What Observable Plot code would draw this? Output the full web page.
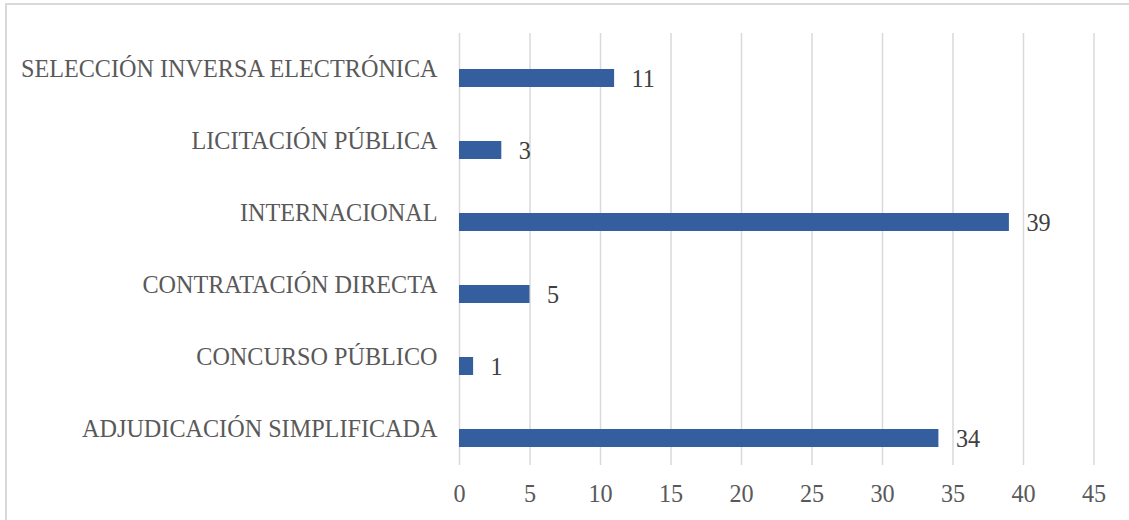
<!DOCTYPE html>
<html>
<head>
<meta charset="utf-8">
<script src="https://cdn.jsdelivr.net/npm/d3@7"></script>
<script src="https://cdn.jsdelivr.net/npm/@observablehq/plot@0.6"></script>
<style>
  html, body { margin: 0; padding: 0; background: #fff; }
  #wrap { position: relative; width: 1129px; height: 520px; overflow: hidden; }
  #border { position: absolute; left: 5px; top: 3px; width: 1140px; height: 530px;
            border: 2px solid #d9d9d9; box-sizing: border-box; pointer-events: none; }
  #chart { position: absolute; left: 0; top: 0; }
</style>
</head>
<body>
<div id="wrap"><div id="chart"></div><div id="border"></div></div>
<script>
const categories = [
  "SELECCIÓN INVERSA ELECTRÓNICA",
  "LICITACIÓN PÚBLICA",
  "INTERNACIONAL",
  "CONTRATACIÓN DIRECTA",
  "CONCURSO PÚBLICO",
  "ADJUDICACIÓN SIMPLIFICADA"
];
const values = [11, 3, 39, 5, 1, 34];
const xTicks = [0, 5, 10, 15, 20, 25, 30, 35, 40, 45];

const data = categories.map((c, i) => ({category: c, value: values[i]}));

const chart = Plot.plot({
  width: 1129,
  height: 520,
  marginLeft: 459,
  marginRight: 35.5,
  marginTop: 33,
  marginBottom: 55,
  style: {fontFamily: "'Liberation Serif', 'Times New Roman', serif", fontSize: "24px", color: "#595959", background: "transparent"},
  x: {domain: [0, 45], ticks: xTicks, label: null},
  y: {domain: categories, padding: 0, label: null},
  marks: [
    Plot.gridX(xTicks, {stroke: "#d9d9d9", strokeOpacity: 1, strokeWidth: 1.5}),
    Plot.axisX(xTicks, {tickSize: 0, tickPadding: 19, fontSize: 24.2, label: null}),
    Plot.axisY({tickSize: 0, tickPadding: 22, fontSize: 24.2, label: null}),
    Plot.barX(data, {x: "value", y: "category", fill: "#355E9F", insetTop: 36, insetBottom: 18}),
    Plot.text(data, {x: "value", y: "category", text: d => String(d.value), textAnchor: "start", dx: 17, dy: 10, fill: "#404040", fontSize: 24.2})
  ]
});
document.getElementById("chart").appendChild(chart);
</script>
</body>
</html>
